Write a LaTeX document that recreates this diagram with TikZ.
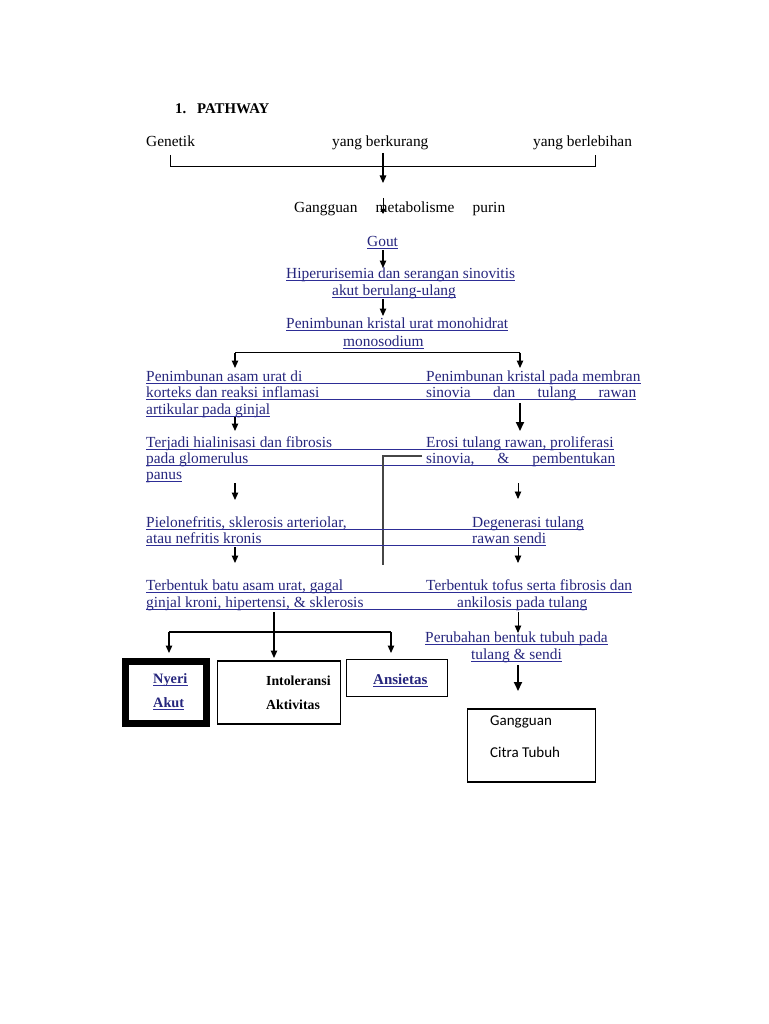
\documentclass[tikz,border=0pt]{standalone}
\usepackage{fontspec}
\setmainfont{Liberation Serif}
\newfontfamily\calfont{Carlito}
\usetikzlibrary{arrows.meta}
\definecolor{navy}{RGB}{38,38,125}
\definecolor{ulcol}{RGB}{45,45,150}
\definecolor{grayline}{RGB}{70,70,70}
\newcommand\ulpair[2]{\draw[uline] ([yshift=-2pt]#1.base west) -- ([yshift=-2pt]#2.base east);}
\tikzset{
  txt/.style={inner sep=0pt, anchor=base west, text=navy, font=\fontsize{15.4}{17}\selectfont},
  plain/.style={inner sep=0pt, anchor=base west, text=black, font=\fontsize{15.4}{17}\selectfont},
  boldtxt/.style={inner sep=0pt, anchor=base west, font=\fontsize{14.3}{17}\selectfont\bfseries},
  titletxt/.style={inner sep=0pt, anchor=base west, font=\fontsize{14.8}{17}\selectfont\bfseries},
  uline/.style={draw=ulcol, line width=0.9pt},
  arr/.style={draw=black, line width=1.2pt, -{Triangle[length=7.5pt,width=6.5pt]}},
  thickarr/.style={draw=black, line width=1.8pt, -{Triangle[length=9pt,width=8pt]}},
  conn/.style={draw=black, line width=1.2pt},
  box/.style={draw=black, line width=1.2pt},
}
\begin{document}
\begin{tikzpicture}[x=1pt,y=-1pt]
\useasboundingbox[fill=white] (0,0) rectangle (768,1024);

% title
\node[titletxt] (t1) at (175,114) {1.};
\node[titletxt] (t2) at (197,114) {PATHWAY};

% top row
\node[plain] (g1) at (146,147) {Genetik};
\node[plain] (g2) at (332,147) {yang berkurang};
\node[plain] (g3) at (533,147) {yang berlebihan};
\coordinate (bl) at (170.7,155);
\coordinate (br) at (595.7,155);
\draw[conn, line width=1pt] (bl) -- (170.7,167) -- (595.7,167) -- (br);
\coordinate (m0) at (383,153);
\coordinate (m1) at (383,183);
\draw[arr] (m0) -- (m1);

\node[plain] (gm) at (294,213) {\hbox to 211pt{Gangguan\hfill metabolisme\hfill purin}};
\coordinate (m2) at (383,198);
\coordinate (m3) at (383,214);
\draw[arr, line width=0.9pt, -{Triangle[length=5pt,width=5pt]}] (m2) -- (m3);

\node[txt] (gout) at (367,246) {Gout};
\ulpair{gout}{gout}
\coordinate (m4) at (383,250);
\coordinate (m5) at (383,268);
\draw[arr] (m4) -- (m5);

\node[txt] (h1) at (286,278) {Hiperurisemia dan serangan sinovitis};
\node[txt] (h2) at (332,295) {akut berulang-ulang};
\ulpair{h1}{h1}
\ulpair{h2}{h2}
\coordinate (m6) at (383,299);
\coordinate (m7) at (383,316);
\draw[arr] (m6) -- (m7);

\node[txt] (p1) at (286,328) {Penimbunan kristal urat monohidrat};
\node[txt] (p2) at (343,346) {monosodium};
\ulpair{p1}{p1}
\ulpair{p2}{p2}

% split
\coordinate (sL) at (235,352.5);
\coordinate (sR) at (520,352.5);
\draw[conn] (sL) -- (sR);
\draw[arr] (sL) -- (235,368);
\draw[arr] (sR) -- (520,368);

% left/right row 1
\node[txt] (a1) at (146,381) {Penimbunan asam urat di};
\node[txt] (a2) at (146,397.5) {korteks dan reaksi inflamasi};
\node[txt] (a3) at (146,414) {artikular pada ginjal};
\node[txt] (b1) at (426,381) {Penimbunan kristal pada membran};
\node[txt] (b2) at (426,397.5) {\hbox to 210pt{sinovia\hfill dan\hfill tulang\hfill rawan}};
\ulpair{a1}{b1}
\ulpair{a2}{b2}
\ulpair{a3}{a3}
\draw[arr] (235,417) -- (235,431);
\draw[thickarr] (520,403) -- (520,431);

% row 2
\node[txt] (a4) at (146,447) {Terjadi hialinisasi dan fibrosis};
\node[txt] (a5) at (146,463) {pada glomerulus};
\node[txt] (a6) at (146,479) {panus};
\node[txt] (b4) at (426,447) {Erosi tulang rawan, proliferasi};
\node[txt] (b5) at (426,463) {\hbox to 189pt{sinovia,\hfill \&\hfill pembentukan}};
\ulpair{a4}{b4}
\ulpair{a5}{b5}
\ulpair{a6}{a6}
\coordinate (gl0) at (422,456);
\coordinate (gl1) at (383,456);
\coordinate (gl2) at (383,565);
\draw[draw=grayline, line width=1.6pt] (gl0) -- (gl1) -- (gl2);
\draw[arr] (235,483) -- (235,500);
\draw[arr, line width=0.9pt] (518,483) -- (518,499);

% row 3
\node[txt] (a7) at (146,527) {Pielonefritis, sklerosis arteriolar,};
\node[txt] (a8) at (146,543.5) {atau nefritis kronis};
\node[txt] (b7) at (472,527) {Degenerasi tulang};
\node[txt] (b8) at (472,543.5) {rawan sendi};
\ulpair{a7}{b7}
\ulpair{a8}{b8}
\draw[arr] (235,547) -- (235,563);
\draw[arr, line width=0.9pt] (518,547) -- (518,563);

% row 4
\node[txt] (a9) at (146,590) {Terbentuk batu asam urat, gagal};
\node[txt] (a10) at (146,607) {ginjal kroni, hipertensi,\ \& sklerosis};
\node[txt] (b9) at (426,590) {Terbentuk tofus serta fibrosis dan};
\node[txt] (b10) at (457,607) {ankilosis pada tulang};
\ulpair{a9}{b9}
\ulpair{a10}{b10}

% bottom left branching
\coordinate (v0) at (274,612);
\coordinate (v1) at (274,658);
\draw[arr] (v0) -- (v1);
\coordinate (hL) at (169,632);
\coordinate (hR) at (391,632);
\draw[conn] (hL) -- (hR);
\draw[arr] (hL) -- (169,653);
\draw[arr] (hR) -- (391,653);

% right lower
\draw[arr, line width=0.9pt] (518,612) -- (518,633);
\node[txt] (b11) at (425,642) {Perubahan bentuk tubuh pada};
\node[txt] (b12) at (471,659) {tulang \& sendi};
\ulpair{b11}{b11}
\ulpair{b12}{b12}
\draw[thickarr] (518,665) -- (518,691);

% boxes
\draw[draw=black, line width=7pt] (125.5,661.5) rectangle (206.5,723.5);
\node[boldtxt, text=navy] (ny1) at (153,683) {Nyeri};
\node[boldtxt, text=navy] (ny2) at (153,707) {Akut};
\ulpair{ny1}{ny1}
\ulpair{ny2}{ny2}

\draw[box] (217.5,661) rectangle (340.5,724);
\node[boldtxt, font=\fontsize{13.8}{17}\selectfont\bfseries] (in1) at (266,685) {Intoleransi};
\node[boldtxt, font=\fontsize{13.8}{17}\selectfont\bfseries] (in2) at (266,709) {Aktivitas};

\draw[box] (346.5,659.5) rectangle (447.5,696.5);
\node[boldtxt, text=navy, font=\fontsize{15}{17}\selectfont\bfseries] (an) at (373,684) {Ansietas};
\ulpair{an}{an}

\draw[box] (467.5,709) rectangle (595.5,782);
\node[inner sep=0pt, anchor=base west, font=\calfont\fontsize{15}{17}\selectfont] (ct1) at (490,725) {Gangguan};
\node[inner sep=0pt, anchor=base west, font=\calfont\fontsize{15}{17}\selectfont] (ct2) at (490,757) {Citra Tubuh};
\end{tikzpicture}
\end{document}
